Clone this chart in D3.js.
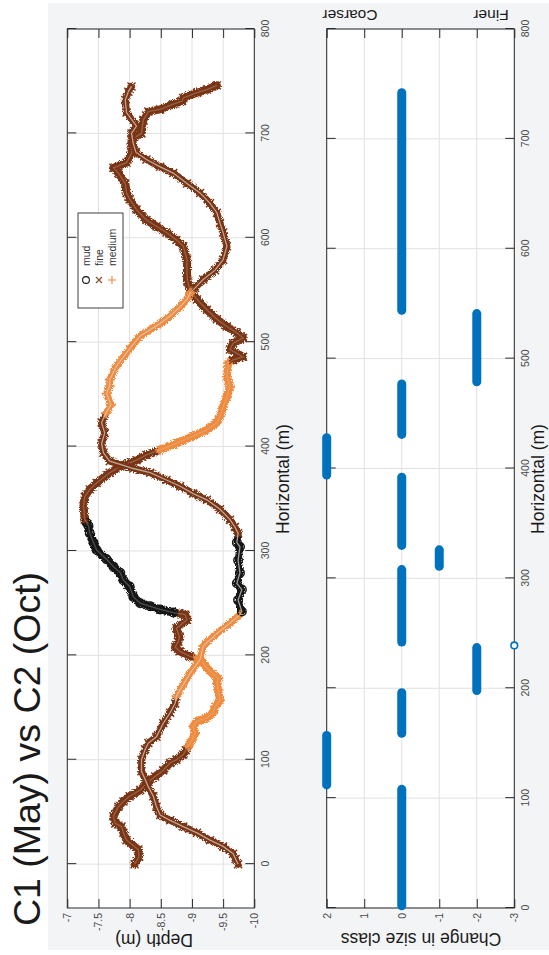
<!DOCTYPE html>
<html>
<head>
<meta charset="utf-8">
<script src="https://cdn.jsdelivr.net/npm/d3@7"></script>
<style>
  html, body { margin: 0; padding: 0; background: #fff; }
  svg { display: block; font-family: "Liberation Sans", Arial, Helvetica, sans-serif; }
</style>
</head>
<body>
<script>
// ---- Profile C1: horizontal position (m), depth (m) ----
const c1H = [0,7,14,23,30,36,39,46,55,60,65,71,79,84,90,97,100,105,109,113,119,125,132,137,140,145,151,157,167,173,178,183,188,196,199,204,208,213,218,226,234,239,241,244,247,250,256,266,272,279,285,292,301,308,317,324,327,330,343,352,359,365,375,381,387,392,397,403,410,416,423,429,438,448,457,467,480,483,486,493,499,504,509,515,522,531,541,550,558,566,579,592,598,605,611,617,627,637,643,652,662,667,672,681,694,700,713,721,723,728,731,734,739,742,746];
const c1Depth = [-8.08,-8.15,-8.14,-7.95,-7.9,-7.87,-7.77,-7.74,-7.82,-7.9,-8.0,-8.17,-8.3,-8.41,-8.54,-8.65,-8.75,-8.86,-8.9,-8.94,-9.0,-9.05,-9.02,-9.08,-9.24,-9.34,-9.37,-9.45,-9.42,-9.4,-9.42,-9.32,-9.24,-9.13,-8.97,-8.8,-8.73,-8.78,-8.8,-8.75,-8.92,-8.89,-8.7,-8.49,-8.33,-8.17,-8.06,-8.0,-7.9,-7.85,-7.74,-7.63,-7.47,-7.42,-7.36,-7.34,-7.31,-7.28,-7.26,-7.28,-7.36,-7.47,-7.68,-7.85,-8.11,-8.27,-8.49,-8.75,-9.02,-9.24,-9.4,-9.45,-9.5,-9.56,-9.61,-9.56,-9.58,-9.66,-9.82,-9.61,-9.66,-9.82,-9.72,-9.56,-9.4,-9.24,-9.08,-8.97,-8.93,-8.92,-8.92,-8.86,-8.75,-8.59,-8.43,-8.27,-8.11,-8.0,-7.95,-7.93,-7.82,-7.74,-7.95,-8.03,-8.03,-8.19,-8.22,-8.3,-8.49,-8.7,-8.84,-8.86,-9.08,-9.24,-9.4];
// sediment class along C1: each class holds from its start position onward
const c1ClassStart = [0, 113, 199, 241, 330, 397, 483];
const c1ClassName  = ["fine", "medium", "fine", "mud", "fine", "medium", "fine"];

// ---- Profile C2 ----
const c2H = [0,5,10,17,23,30,36,42,47,55,65,74,81,89,100,110,116,122,135,145,154,161,170,183,196,209,221,231,239,242,253,263,269,279,291,304,308,317,323,330,340,349,355,362,368,375,379,383,386,394,403,413,423,432,440,451,458,464,477,486,496,506,512,518,525,534,541,547,552,560,569,579,592,605,614,624,633,643,652,662,668,675,682,690,700,707,720,732,740,745];
const c2Depth = [-9.74,-9.7,-9.66,-9.5,-9.29,-9.08,-8.86,-8.65,-8.49,-8.43,-8.38,-8.3,-8.25,-8.19,-8.19,-8.25,-8.3,-8.43,-8.54,-8.65,-8.73,-8.75,-8.84,-8.97,-9.13,-9.18,-9.4,-9.61,-9.77,-9.8,-9.74,-9.8,-9.72,-9.77,-9.74,-9.77,-9.72,-9.74,-9.69,-9.61,-9.45,-9.24,-9.02,-8.81,-8.59,-8.33,-8.06,-7.85,-7.68,-7.58,-7.55,-7.6,-7.55,-7.62,-7.7,-7.63,-7.68,-7.68,-7.79,-7.9,-8.03,-8.17,-8.33,-8.49,-8.65,-8.81,-8.92,-8.97,-9.05,-9.18,-9.37,-9.5,-9.56,-9.5,-9.45,-9.4,-9.29,-9.13,-8.92,-8.7,-8.49,-8.27,-8.1,-8.06,-8.03,-8.11,-7.95,-7.93,-7.98,-8.03];
const c2ClassStart = [0, 161, 242, 317, 432, 552];
const c2ClassName  = ["fine", "medium", "mud", "fine", "medium", "fine"];

// ---- Change in size class (C2 - C1), as runs along the transect ----
const sizeRunStart = [2, 112, 159, 198, 242, 311, 330, 394, 431, 479, 544];
const sizeRunEnd   = [108, 157, 196, 237, 308, 326, 392, 428, 477, 541, 742];
const sizeRunValue = [0, 2, 0, -2, 0, -1, 0, 2, 0, -2, 0];
const sizeOutlierH = [239];
const sizeOutlierValue = [-3];

// ---- ticks and labels ----
const horizTicks = [0, 100, 200, 300, 400, 500, 600, 700, 800];
const depthTicks = [-10, -9.5, -9, -8.5, -8, -7.5, -7];
const classTicks = [-3, -2, -1, 0, 1, 2];
const legendNames = ["mud", "fine", "medium"];
const titleText = "C1 (May) vs C2 (Oct)";

const classColor = { mud: "#151515", fine: "#7a3413", medium: "#f08a3d" };

// ---- page ----
const W = 549, H = 955;
const svg = d3.select("body").append("svg").attr("width", W).attr("height", H);
svg.append("rect").attr("width", W).attr("height", H).attr("fill", "#fff");

const defs = svg.append("defs");
const rough = defs.append("filter").attr("id", "rough")
  .attr("x", "-10%").attr("y", "-10%").attr("width", "120%").attr("height", "120%");
rough.append("feTurbulence").attr("type", "fractalNoise").attr("baseFrequency", 0.9)
  .attr("numOctaves", 1).attr("seed", 4).attr("result", "noise");
rough.append("feDisplacementMap").attr("in", "SourceGraphic").attr("in2", "noise")
  .attr("scale", 6).attr("xChannelSelector", "R").attr("yChannelSelector", "G");

// The figure is laid out landscape-first and turned a quarter turn counter-clockwise.
// Inside `fig`, x runs 0..955 and y runs 0..549.
const fig = svg.append("g").attr("transform", `translate(0,${H}) rotate(-90)`);

fig.append("rect").attr("x", 5).attr("y", 48).attr("width", 947).attr("height", 501)
  .attr("fill", "#f3f4f6");

fig.append("text")
  .attr("x", 206).attr("y", 27).attr("dy", "0.35em")
  .attr("text-anchor", "middle").attr("font-size", 37.5).attr("fill", "#1a1a1a")
  .text(titleText);

const axL = 47, axR = 926;
const panelTop = { top: 67.3, bottom: 254.3 };
const panelBot = { top: 326.7, bottom: 514.3 };

const xTop = d3.scaleLinear().domain([-42, 800]).range([axL, axR]);
const yTop = d3.scaleLinear().domain([-10, -7]).range([panelTop.bottom, panelTop.top]);
const xBot = d3.scaleLinear().domain([0, 800]).range([axL, axR]);
const yBot = d3.scaleLinear().domain([-3, 2]).range([panelBot.bottom, panelBot.top]);

const tickLen = 9;
const fmt = d => String(d);

function drawAxes(x, y, yTickVals, p) {
  const g = fig.append("g");
  g.append("rect").attr("x", axL).attr("y", p.top)
    .attr("width", axR - axL).attr("height", p.bottom - p.top).attr("fill", "#fff");
  // grid
  g.append("g").selectAll("line").data(horizTicks).join("line")
    .attr("x1", d => x(d)).attr("x2", d => x(d)).attr("y1", p.top).attr("y2", p.bottom)
    .attr("stroke", "#e1e1e1").attr("stroke-width", 1);
  g.append("g").selectAll("line").data(yTickVals).join("line")
    .attr("x1", axL).attr("x2", axR).attr("y1", d => y(d)).attr("y2", d => y(d))
    .attr("stroke", "#e1e1e1").attr("stroke-width", 1);

  const style = sel => {
    sel.select(".domain").remove();
    sel.selectAll(".tick line").attr("stroke", "#2b2b2b").attr("stroke-width", 1);
    sel.selectAll(".tick text").attr("fill", "#4a4a4a").attr("font-size", 10.5)
      .attr("font-family", "Liberation Sans, Arial, sans-serif");
  };
  g.append("g").attr("transform", `translate(0,${p.bottom})`)
    .call(d3.axisBottom(x).tickValues(horizTicks).tickFormat(fmt)
      .tickSizeInner(-tickLen).tickSizeOuter(0).tickPadding(7)).call(style);
  g.append("g").attr("transform", `translate(0,${p.top})`)
    .call(d3.axisTop(x).tickValues(horizTicks).tickFormat("")
      .tickSizeInner(-tickLen).tickSizeOuter(0)).call(style);
  g.append("g").attr("transform", `translate(${axL},0)`)
    .call(d3.axisLeft(y).tickValues(yTickVals).tickFormat(fmt)
      .tickSizeInner(-tickLen).tickSizeOuter(0).tickPadding(5)).call(style);
  g.append("g").attr("transform", `translate(${axR},0)`)
    .call(d3.axisRight(y).tickValues(yTickVals).tickFormat("")
      .tickSizeInner(-tickLen).tickSizeOuter(0)).call(style);

  g.append("rect").attr("x", axL).attr("y", p.top)
    .attr("width", axR - axL).attr("height", p.bottom - p.top)
    .attr("fill", "none").attr("stroke", "#2b2b2b").attr("stroke-width", 1);
  return g;
}

drawAxes(xTop, yTop, depthTicks, panelTop);
drawAxes(xBot, yBot, classTicks, panelBot);

// axis titles
function label(x, y, rot, text) {
  fig.append("text")
    .attr("transform", `translate(${x},${y}) rotate(${rot})`)
    .attr("dy", "0.35em").attr("text-anchor", "middle")
    .attr("font-size", 17.5).attr("fill", "#1a1a1a").text(text);
}
label(476, 283, 0, "Horizontal (m)");
label(476, 538, 0, "Horizontal (m)");
label(15, 154, -90, "Depth (m)");
label(16, 421, -90, "Change in size class");

fig.append("text").attr("transform", "translate(940,350) rotate(-90)")
  .attr("dy", "0.35em").attr("text-anchor", "middle")
  .attr("font-size", 15.5).attr("fill", "#1a1a1a").text("Coarser");
fig.append("text").attr("transform", "translate(940,491) rotate(-90)")
  .attr("dy", "0.35em").attr("text-anchor", "middle")
  .attr("font-size", 15.5).attr("fill", "#1a1a1a").text("Finer");

// ---- depth profiles ----
function buildPoints(hs, ds, starts, names) {
  return hs.map((h, i) => {
    let k = 0;
    for (let j = 0; j < starts.length; j++) if (h >= starts[j]) k = j;
    return { h, d: ds[i], cls: names[k] };
  });
}
function runs(points) {
  const out = [];
  let cur = null;
  points.forEach(p => {
    if (!cur || cur.cls !== p.cls) {
      if (cur) cur.pts.push(p);
      cur = { cls: p.cls, pts: [p] };
      out.push(cur);
    } else cur.pts.push(p);
  });
  return out;
}

const line = d3.line().x(p => xTop(p.h)).y(p => yTop(p.d)).curve(d3.curveLinear);
const markerPath = {
  fine: s => `M${-s},${-s}L${s},${s}M${-s},${s}L${s},${-s}`,
  medium: s => `M${-s},0H${s}M0,${-s}V${s}`
};

function drawProfile(points, bandW, overlayOpacity) {
  const g = fig.append("g");
  const rr = runs(points);
  g.append("g").attr("filter", "url(#rough)").selectAll("path").data(rr).join("path")
    .attr("d", r => line(r.pts))
    .attr("fill", "none").attr("stroke", r => classColor[r.cls])
    .attr("stroke-width", bandW).attr("stroke-linejoin", "round").attr("stroke-linecap", "round");
  const mk = g.append("g");
  points.forEach(p => {
    const tx = `translate(${xTop(p.h)},${yTop(p.d)})`;
    if (p.cls === "mud") {
      mk.append("circle").attr("transform", tx).attr("r", 4.3)
        .attr("fill", "none").attr("stroke", classColor.mud).attr("stroke-width", 1.4);
    } else {
      mk.append("path").attr("transform", tx)
        .attr("d", markerPath[p.cls](p.cls === "fine" ? 4 : 5))
        .attr("stroke", classColor[p.cls]).attr("stroke-width", 1.4).attr("fill", "none");
    }
  });
  g.append("path").attr("d", line(points)).attr("fill", "none")
    .attr("stroke", "#d4ccc4").attr("stroke-width", 1.3).attr("opacity", overlayOpacity);
}

drawProfile(buildPoints(c1H, c1Depth, c1ClassStart, c1ClassName), 8, 0.3);
drawProfile(buildPoints(c2H, c2Depth, c2ClassStart, c2ClassName), 7, 0.75);

// ---- legend ----
const lg = fig.append("g");
lg.append("rect").attr("x", 647).attr("y", 78).attr("width", 95).attr("height", 45)
  .attr("fill", "#fff").attr("stroke", "#2b2b2b").attr("stroke-width", 0.9);
const rowY = d3.scalePoint().domain(legendNames).range([86, 112]);
legendNames.forEach(n => {
  const y = rowY(n);
  if (n === "mud") {
    lg.append("circle").attr("cx", 675).attr("cy", y).attr("r", 3.4)
      .attr("fill", "none").attr("stroke", classColor.mud).attr("stroke-width", 1.1);
  } else {
    lg.append("path").attr("transform", `translate(675,${y})`)
      .attr("d", markerPath[n](n === "fine" ? 3 : 4))
      .attr("stroke", n === "fine" ? "#8b4a2b" : classColor.medium)
      .attr("stroke-width", 1.1).attr("fill", "none");
  }
  lg.append("text").attr("x", 689).attr("y", y).attr("dy", "0.35em")
    .attr("font-size", 10.5).attr("fill", "#333").text(n);
});

// ---- change in size class ----
const sizeRuns = sizeRunStart.map((s, i) => ({ s, e: sizeRunEnd[i], v: sizeRunValue[i] }));
fig.append("g").selectAll("line").data(sizeRuns).join("line")
  .attr("x1", r => xBot(r.s)).attr("x2", r => xBot(r.e))
  .attr("y1", r => yBot(r.v)).attr("y2", r => yBot(r.v))
  .attr("stroke", "#0072bd").attr("stroke-width", 9).attr("stroke-linecap", "round");
fig.append("g").selectAll("circle").data(sizeOutlierH.map((h, i) => ({ h, v: sizeOutlierValue[i] })))
  .join("circle")
  .attr("cx", d => xBot(d.h)).attr("cy", d => yBot(d.v)).attr("r", 3.3)
  .attr("fill", "#fff").attr("stroke", "#0072bd").attr("stroke-width", 1.6);
</script>
</body>
</html>
